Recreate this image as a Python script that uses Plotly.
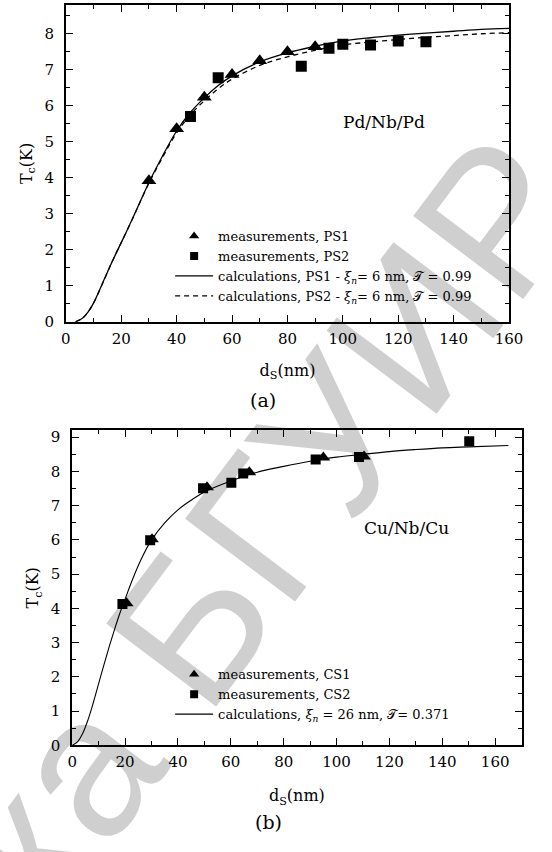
import plotly.graph_objects as go

# ---------------- Panel (a): Pd/Nb/Pd ----------------
ps1_d = [30, 40, 50, 60, 70, 80, 90]
ps1_tc = [3.92, 5.36, 6.24, 6.87, 7.25, 7.50, 7.64]
ps2_d = [45, 55, 85, 95, 100, 110, 120, 130]
ps2_tc = [5.70, 6.78, 7.10, 7.60, 7.71, 7.69, 7.80, 7.78]

calc_a_d = [3.5, 6, 8, 10, 12, 14, 16, 18, 20, 22, 25, 30, 35, 40, 45, 50, 55, 60,
            70, 80, 90, 100, 110, 120, 130, 140, 150, 160]
calc_ps1_tc = [0, 0.10, 0.27, 0.52, 0.85, 1.20, 1.55, 1.88, 2.20, 2.52, 3.02, 3.87,
               4.62, 5.30, 5.82, 6.22, 6.56, 6.83, 7.22, 7.47, 7.65, 7.80, 7.89,
               7.96, 8.02, 8.07, 8.12, 8.15]
calc_ps2_tc = [0, 0.10, 0.27, 0.52, 0.85, 1.20, 1.55, 1.88, 2.20, 2.52, 3.02, 3.85,
               4.58, 5.25, 5.75, 6.14, 6.47, 6.74, 7.12, 7.36, 7.54, 7.69, 7.77,
               7.84, 7.90, 7.95, 8.00, 8.03]

# ---------------- Panel (b): Cu/Nb/Cu ----------------
cs1_d = [20.6, 30.2, 51, 67, 95, 110.4]
cs1_tc = [4.15, 6.02, 7.54, 7.98, 8.41, 8.44]
cs2_d = [19, 29.5, 49.5, 60.2, 64.7, 92.1, 108.5, 150.2]
cs2_tc = [4.13, 5.99, 7.51, 7.67, 7.94, 8.35, 8.42, 8.88]

calc_b_d = [0, 2, 4, 6, 8, 10, 12, 14, 16, 18, 20, 23, 26, 30, 35, 40, 45, 50,
            60, 70, 80, 90, 100, 110, 120, 130, 140, 150, 165]
calc_b_tc = [0, 0.10, 0.35, 0.75, 1.25, 1.80, 2.35, 2.88, 3.38, 3.85, 4.27, 4.88,
             5.42, 6.00, 6.50, 6.88, 7.16, 7.40, 7.72, 7.98, 8.15, 8.30, 8.42,
             8.50, 8.58, 8.64, 8.69, 8.72, 8.76]

SERIF = "DejaVu Serif"
BLACK = "black"
XI = "<i>ξ<sub>n</sub></i>"
SCRIPT_T = "𝒯"

fig = go.Figure()

# panel (a) traces
fig.add_trace(go.Scatter(x=calc_a_d, y=calc_ps1_tc, mode="lines", line=dict(color=BLACK, width=1.3, shape="spline"),
                         xaxis="x", yaxis="y", showlegend=False))
fig.add_trace(go.Scatter(x=calc_a_d, y=calc_ps2_tc, mode="lines", line=dict(color=BLACK, width=1.3, dash="5px,4px", shape="spline"),
                         xaxis="x", yaxis="y", showlegend=False))
fig.add_trace(go.Scatter(x=ps1_d, y=ps1_tc, mode="markers", marker=dict(symbol="triangle-up", size=13, color=BLACK),
                         xaxis="x", yaxis="y", showlegend=False))
fig.add_trace(go.Scatter(x=ps2_d, y=ps2_tc, mode="markers", marker=dict(symbol="square", size=11, color=BLACK),
                         xaxis="x", yaxis="y", showlegend=False))

# legend entries for (a)
fig.add_trace(go.Scatter(x=[None], y=[None], mode="markers", marker=dict(symbol="triangle-up", size=9, color=BLACK),
                         name="measurements, PS1", xaxis="x", yaxis="y", legend="legend"))
fig.add_trace(go.Scatter(x=[None], y=[None], mode="markers", marker=dict(symbol="square", size=8, color=BLACK),
                         name="measurements, PS2", xaxis="x", yaxis="y", legend="legend"))
fig.add_trace(go.Scatter(x=[None], y=[None], mode="lines", line=dict(color=BLACK, width=1.3),
                         name=f"calculations, PS1 - {XI}= 6 nm, {SCRIPT_T} = 0.99", xaxis="x", yaxis="y", legend="legend"))
fig.add_trace(go.Scatter(x=[None], y=[None], mode="lines", line=dict(color=BLACK, width=1.3, dash="5px,4px"),
                         name=f"calculations, PS2 - {XI}= 6 nm, {SCRIPT_T} = 0.99", xaxis="x", yaxis="y", legend="legend"))

# panel (b) traces
fig.add_trace(go.Scatter(x=calc_b_d, y=calc_b_tc, mode="lines", line=dict(color=BLACK, width=1.1, shape="spline"),
                         xaxis="x2", yaxis="y2", showlegend=False))
fig.add_trace(go.Scatter(x=cs1_d, y=cs1_tc, mode="markers", marker=dict(symbol="triangle-up", size=12, color=BLACK),
                         xaxis="x2", yaxis="y2", showlegend=False))
fig.add_trace(go.Scatter(x=cs2_d, y=cs2_tc, mode="markers", marker=dict(symbol="square", size=10, color=BLACK),
                         xaxis="x2", yaxis="y2", showlegend=False))

fig.add_trace(go.Scatter(x=[None], y=[None], mode="markers", marker=dict(symbol="triangle-up", size=9, color=BLACK),
                         name="measurements, CS1", xaxis="x2", yaxis="y2", legend="legend2"))
fig.add_trace(go.Scatter(x=[None], y=[None], mode="markers", marker=dict(symbol="square", size=8, color=BLACK),
                         name="measurements, CS2", xaxis="x2", yaxis="y2", legend="legend2"))
fig.add_trace(go.Scatter(x=[None], y=[None], mode="lines", line=dict(color=BLACK, width=1.1),
                         name=f"calculations, {XI} = 26 nm, {SCRIPT_T}= 0.371", xaxis="x2", yaxis="y2", legend="legend2"))


def axis(domain, rng, dtick, minor_dtick, title, anchor, standoff, label_gap):
    return dict(
        domain=domain, range=rng, anchor=anchor, dtick=dtick, tick0=0,
        showline=True, linecolor=BLACK, linewidth=1.8, mirror="ticks",
        ticks="inside", ticklen=7, tickwidth=1.4, tickcolor=BLACK,
        minor=dict(dtick=minor_dtick, ticks="inside", ticklen=4, tickwidth=1.2, tickcolor=BLACK),
        showgrid=False, zeroline=False, ticklabelstandoff=label_gap,
        tickfont=dict(family=SERIF, size=15, color=BLACK),
        title=dict(text=title, font=dict(family=SERIF, size=16, color=BLACK), standoff=standoff),
    )


def note(text, px, py, size):
    return dict(text=text, x=px / W, y=1 - py / H, xref="paper", yref="paper", showarrow=False,
                xanchor="center", yanchor="middle", font=dict(family=SERIF, size=size, color=BLACK))


W, H = 552, 852
fig.update_layout(
    width=W, height=H, autosize=False,
    margin=dict(l=0, r=0, t=0, b=0),
    paper_bgcolor="white", plot_bgcolor="rgba(0,0,0,0)",
    xaxis=axis([63 / W, 522 / W], [0, 160], 20, 10, "d<sub>S</sub>(nm)", "y", 18, 2),
    yaxis=axis([1 - 324 / H, 1 - 3 / H], [0, 8.8], 1, 0.5, "T<sub>c</sub>(K)", "x", 8, 7),
    xaxis2=axis([69.6 / W, 535 / W], [0, 170], 20, 10, "d<sub>S</sub>(nm)", "y2", 20, 2),
    yaxis2=axis([1 - 753 / H, 1 - 434 / H], [0, 9.2], 1, 0.5, "T<sub>c</sub>(K)", "x2", 8, 7),
    legend=dict(x=171 / W, y=1 - 222 / H, xanchor="left", yanchor="top", bgcolor="rgba(0,0,0,0)",
                font=dict(family=SERIF, size=13, color=BLACK), itemwidth=38, tracegroupgap=0),
    legend2=dict(x=171 / W, y=1 - 666 / H, xanchor="left", yanchor="top", bgcolor="rgba(0,0,0,0)",
                 font=dict(family=SERIF, size=13, color=BLACK), itemwidth=38, tracegroupgap=0),
    annotations=[
        note("Pd/Nb/Pd", 393, 122, 17),
        note("Cu/Nb/Cu", 416, 533, 17),
        note("(a)", 267, 403, 19),
        note("(b)", 273, 831, 19),
    ],
    shapes=[
        # library watermark, drawn beneath the plots
        dict(type="rect", xref="paper", yref="paper", x0=-0.037 - 0.01, x1=-0.037 + 0.01,
             y0=-0.027 - 0.01, y1=-0.027 + 0.01, line=dict(width=0), fillcolor="rgba(0,0,0,0)",
             layer="below",
             label=dict(text="Библиотека БГУИР", textangle=-53, textposition="middle center",
                        font=dict(family="Liberation Sans", size=200, color="#cfcfcf"))),
    ],
)

fig.write_html("out.html")
